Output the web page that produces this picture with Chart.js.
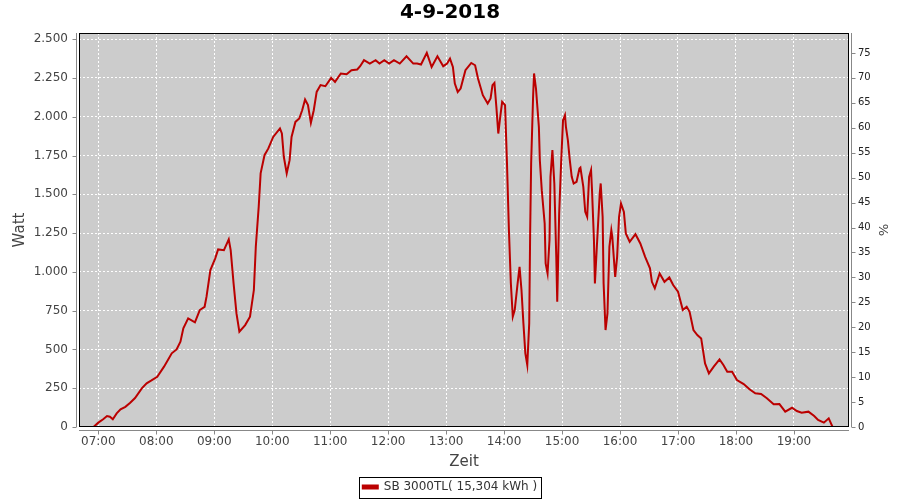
<!DOCTYPE html>
<html>
<head>
<meta charset="utf-8">
<script src="https://cdn.jsdelivr.net/npm/chart.js@4/dist/chart.umd.min.js"></script>
<style>
  html, body { margin: 0; padding: 0; background: #fff; }
  #c { display: block; }
</style>
</head>
<body>
<canvas id="c" width="900" height="500"></canvas>
<script>
(function () {
    'use strict';

    var TITLE = '4-9-2018';
    var SERIES_LABEL = 'SB 3000TL( 15,304 kWh )';

    var TIMES = [
        '06:55', '07:00', '07:05', '07:09', '07:12', '07:15', '07:19', '07:23', '07:28', '07:33',
        '07:38', '07:45', '07:50', '07:55', '08:01', '08:08', '08:16', '08:21', '08:25', '08:28',
        '08:33', '08:40', '08:45', '08:50', '08:52', '08:56', '09:01', '09:04', '09:10', '09:15',
        '09:17', '09:20', '09:23', '09:26', '09:32', '09:37', '09:41', '09:43', '09:46', '09:48',
        '09:52', '09:56', '10:01', '10:08', '10:10', '10:12', '10:15', '10:18', '10:20', '10:24',
        '10:28', '10:31', '10:34', '10:37', '10:40', '10:43', '10:46', '10:50', '10:55', '11:01',
        '11:05', '11:11', '11:17', '11:22', '11:28', '11:31', '11:35', '11:41', '11:47', '11:51',
        '11:56', '12:01', '12:06', '12:12', '12:19', '12:26', '12:30', '12:34', '12:40', '12:45',
        '12:51', '12:57', '13:01', '13:04', '13:07', '13:09', '13:12', '13:15', '13:20', '13:26',
        '13:30', '13:33', '13:38', '13:43', '13:46', '13:48', '13:50', '13:52', '13:54', '13:56',
        '13:58', '14:01', '14:03', '14:05', '14:07', '14:09', '14:11', '14:14', '14:16', '14:18',
        '14:20', '14:22', '14:24', '14:26', '14:27', '14:28', '14:30', '14:31', '14:33', '14:36',
        '14:37', '14:39', '14:42', '14:43', '14:45', '14:47', '14:48', '14:50', '14:52', '14:54',
        '14:55', '14:57', '14:59', '15:01', '15:03', '15:04', '15:06', '15:08', '15:10', '15:12',
        '15:15', '15:18', '15:19', '15:22', '15:24', '15:26', '15:28', '15:30', '15:31', '15:33',
        '15:34', '15:36', '15:39', '15:40', '15:42', '15:43', '15:45', '15:47', '15:49', '15:51',
        '15:52', '15:55', '15:57', '15:59', '16:01', '16:04', '16:06', '16:10', '16:16', '16:21',
        '16:26', '16:31', '16:33', '16:36', '16:41', '16:46', '16:51', '16:55', '17:00', '17:05',
        '17:09', '17:12', '17:16', '17:20', '17:24', '17:28', '17:32', '17:37', '17:43', '17:47',
        '17:51', '17:56', '18:01', '18:08', '18:14', '18:20', '18:26', '18:32', '18:39', '18:45',
        '18:51', '18:58', '19:03', '19:08', '19:15', '19:21', '19:25', '19:31', '19:36', '19:40'
    ];

    var WATTS = [
        0, 28, 50, 71, 66, 50, 88, 114, 130, 157,
        187, 249, 281, 300, 324, 389, 475, 500, 550, 636,
        700, 675, 754, 775, 840, 1012, 1087, 1145, 1140, 1209,
        1140, 926, 732, 614, 657, 711, 883, 1162, 1419, 1635,
        1752, 1796, 1870, 1925, 1892, 1742, 1635, 1720, 1870, 1967,
        1989, 2042, 2111, 2075, 1961, 2042, 2160, 2204, 2197, 2251,
        2225, 2279, 2274, 2300, 2305, 2326, 2365, 2343, 2365, 2343,
        2365, 2343, 2365, 2343, 2390, 2343, 2343, 2337, 2412, 2321,
        2390, 2326, 2343, 2375, 2321, 2214, 2160, 2182, 2300, 2347,
        2332, 2247, 2139, 2086, 2118, 2204, 2218, 2064, 1892, 1999,
        2096, 2075, 1699, 1269, 926, 711, 754, 926, 1033, 883,
        668, 475, 400, 668, 1269, 1699, 2128, 2279, 2182, 1935,
        1720, 1527, 1312, 1055, 990, 1205, 1613, 1785, 1570, 1097,
        807, 1377, 1699, 1978, 2010, 1935, 1849, 1720, 1613, 1570,
        1581, 1667, 1673, 1548, 1387, 1355, 1613, 1656, 1527, 1205,
        926, 1162, 1506, 1570, 1355, 926, 625, 732, 1162, 1269,
        1226, 968, 1097, 1355, 1441, 1387, 1248, 1194, 1243, 1183,
        1097, 1023, 936, 894, 990, 936, 964, 915, 872, 754,
        775, 743, 625, 593, 571, 410, 346, 389, 436, 400,
        356, 356, 303, 277, 243, 217, 213, 185, 146, 148,
        99, 124, 103, 92, 99, 71, 45, 28, 56, 0
    ];

    var HOUR_TICKS = [7, 8, 9, 10, 11, 12, 13, 14, 15, 16, 17, 18, 19];
    var WATT_TICKS = [0, 250, 500, 750, 1000, 1250, 1500, 1750, 2000, 2250, 2500];
    var PCT_TICKS = [0, 5, 10, 15, 20, 25, 30, 35, 40, 45, 50, 55, 60, 65, 70, 75];

    var LINE_COLOR = '#bb0000';
    var PLOT_BG = '#cccccc';
    var AXIS_GRAY = '#888888';
    var FONT = "'DejaVu Sans', sans-serif";

    function toMinutes(t) {
        var p = t.split(':');
        return parseInt(p[0], 10) * 60 + parseInt(p[1], 10);
    }

    function pad2(n) { return (n < 10 ? '0' : '') + n; }

    function germanNumber(v) {
        return String(v).replace(/\B(?=(\d{3})+(?!\d))/g, '.');
    }

    var points = TIMES.map(function (t, i) { return { x: toMinutes(t), y: WATTS[i] }; });

    // plot background, frame, offset axis lines with ticks and the legend box
    var framePlugin = {
        id: 'frame',
        beforeDraw: function (chart) {
            var ca = chart.chartArea, ctx = chart.ctx;
            ctx.save();
            ctx.fillStyle = PLOT_BG;
            ctx.fillRect(ca.left, ca.top, ca.right - ca.left, ca.bottom - ca.top);
            ctx.restore();
        },
        afterDraw: function (chart) {
            var ca = chart.chartArea, ctx = chart.ctx;
            var sx = chart.scales.x, sy = chart.scales.y, sp = chart.scales.pct;
            ctx.save();
            ctx.strokeStyle = '#000';
            ctx.lineWidth = 1;
            ctx.strokeRect(Math.round(ca.left) + 0.5, Math.round(ca.top) + 0.5,
                Math.round(ca.right - ca.left) - 1, Math.round(ca.bottom - ca.top) - 1);

            ctx.strokeStyle = AXIS_GRAY;
            ctx.beginPath();
            var lx = Math.round(ca.left) - 2.5;
            ctx.moveTo(lx, ca.top); ctx.lineTo(lx, ca.bottom);
            WATT_TICKS.forEach(function (v) {
                var y = Math.round(sy.getPixelForValue(v)) + 0.5;
                ctx.moveTo(lx - 4, y); ctx.lineTo(lx, y);
            });
            var by = Math.round(ca.bottom) + 3.5;
            ctx.moveTo(ca.left, by); ctx.lineTo(ca.right, by);
            HOUR_TICKS.forEach(function (h) {
                var x = Math.round(sx.getPixelForValue(h * 60)) + 0.5;
                ctx.moveTo(x, by); ctx.lineTo(x, by + 4);
            });
            var rx = Math.round(ca.right) + 2.5;
            ctx.moveTo(rx, ca.top); ctx.lineTo(rx, ca.bottom);
            PCT_TICKS.forEach(function (v) {
                var y = Math.round(sp.getPixelForValue(v)) + 0.5;
                ctx.moveTo(rx, y); ctx.lineTo(rx + 4, y);
            });
            ctx.stroke();

            var hb = chart.legend && chart.legend.legendHitBoxes && chart.legend.legendHitBoxes[0];
            if (hb) {
                var cy = hb.top + hb.height / 2;
                ctx.strokeStyle = '#000';
                ctx.strokeRect(Math.round(hb.left) - 3.5, Math.round(cy - 10.5) + 0.5,
                    Math.round(hb.width) + 8, 21);
            }
            ctx.restore();
        }
    };

    new Chart(document.getElementById('c'), {
        type: 'line',
        data: {
            datasets: [{
                label: SERIES_LABEL,
                data: points,
                yAxisID: 'y',
                borderColor: LINE_COLOR,
                backgroundColor: LINE_COLOR,
                borderWidth: 2,
                pointRadius: 0,
                tension: 0,
                fill: false
            }]
        },
        options: {
            responsive: false,
            animation: false,
            devicePixelRatio: 1,
            layout: { padding: { left: 0, right: 0, top: 0, bottom: -3 } },
            plugins: {
                title: {
                    display: true,
                    text: TITLE,
                    color: '#000',
                    font: { family: FONT, size: 20, weight: 'bold' },
                    padding: { top: 1, bottom: 8 }
                },
                legend: {
                    position: 'bottom',
                    labels: {
                        color: '#333',
                        font: { family: FONT, size: 12 },
                        boxWidth: 15,
                        boxHeight: 3,
                        padding: 2
                    }
                },
                tooltip: { enabled: false }
            },
            scales: {
                x: {
                    type: 'linear',
                    min: 400,
                    max: 1197,
                    afterBuildTicks: function (scale) {
                        scale.ticks = HOUR_TICKS.map(function (h) { return { value: h * 60 }; });
                    },
                    afterFit: function (scale) {
                        var lg = scale.chart.legend;
                        scale.height = 503 - 427 - (lg ? lg.height : 0);
                    },
                    ticks: {
                        color: '#444',
                        font: { family: FONT, size: 12 },
                        padding: 8,
                        maxRotation: 0,
                        autoSkip: false,
                        callback: function (v) { return pad2(Math.floor(v / 60)) + ':00'; }
                    },
                    grid: { color: '#ffffff', lineWidth: 1, drawTicks: false },
                    border: { display: false, dash: [2, 2] },
                    title: {
                        display: true,
                        text: 'Zeit',
                        color: '#444',
                        font: { family: FONT, size: 15 },
                        padding: { top: 0, bottom: 8 }
                    }
                },
                y: {
                    position: 'left',
                    min: 0,
                    max: 2540,
                    afterBuildTicks: function (scale) {
                        scale.ticks = WATT_TICKS.map(function (v) { return { value: v }; });
                    },
                    afterFit: function (scale) { scale.width = 79; },
                    ticks: {
                        color: '#444',
                        font: { family: FONT, size: 12 },
                        padding: 11,
                        callback: function (v) { return germanNumber(v); }
                    },
                    grid: { color: '#ffffff', lineWidth: 1, drawTicks: false },
                    border: { display: false, dash: [2, 2] },
                    title: {
                        display: true,
                        text: 'Watt',
                        color: '#444',
                        font: { family: FONT, size: 15 },
                        padding: { top: 11, bottom: 0 }
                    }
                },
                pct: {
                    position: 'right',
                    min: 0,
                    max: 79,
                    afterBuildTicks: function (scale) {
                        scale.ticks = PCT_TICKS.map(function (v) { return { value: v }; });
                    },
                    afterFit: function (scale) { scale.width = 51; },
                    ticks: {
                        color: '#222',
                        font: { family: FONT, size: 10 },
                        padding: 9
                    },
                    grid: { drawOnChartArea: false, drawTicks: false },
                    border: { display: false },
                    title: {
                        display: true,
                        text: '%',
                        color: '#444',
                        font: { family: FONT, size: 13 },
                        padding: { top: 10, bottom: 0 }
                    }
                }
            }
        },
        plugins: [framePlugin]
    });
})();
</script>
</body>
</html>
